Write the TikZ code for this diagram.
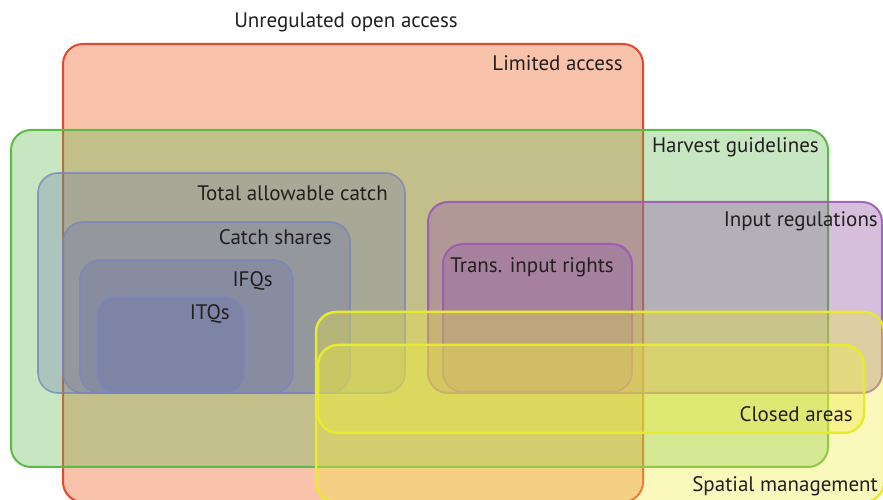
\documentclass[tikz,border=0pt]{standalone}
\usepackage{fontspec}
\setmainfont{PT Sans}
\definecolor{txt}{RGB}{35,31,32}
\definecolor{redfill}{RGB}{249,195,171}
\definecolor{redline}{RGB}{230,72,45}
\definecolor{greenbase}{RGB}{95,185,80}
\definecolor{greenline}{RGB}{92,186,70}
\definecolor{bluebase}{RGB}{105,115,175}
\definecolor{blueline}{RGB}{120,135,190}
\definecolor{purplebase}{RGB}{150,95,170}
\definecolor{purpleline}{RGB}{155,90,180}
\definecolor{yellowbase}{RGB}{240,235,60}
\definecolor{yellowline}{RGB}{232,234,50}
\tikzset{
  region/.style={rounded corners=20pt, line width=2pt},
  redset/.style={region, fill=redfill, draw=redline},
  greenset/.style={region, fill=greenbase, fill opacity=0.35, draw=greenline, draw opacity=1},
  blueset/.style={region, fill=bluebase, fill opacity=0.3, draw=blueline, draw opacity=0.8, line width=1.6pt},
  purpleset/.style={region, fill=purplebase, fill opacity=0.4, draw=purpleline, draw opacity=0.9},
  yellowset/.style={region, fill=yellowbase, fill opacity=0.35, draw=yellowline, draw opacity=1, line width=2.5pt},
  lbl/.style={text=txt, font=\fontsize{21}{23}\selectfont, inner sep=0pt}
}
\begin{document}
\begin{tikzpicture}[x=1pt,y=1pt]
\useasboundingbox (0,0) rectangle (883,500);
\clip (0,0) rectangle (883,500);

% nested management regimes, back to front
\draw[redset]    (63,-2)   rectangle (643,456);
\draw[greenset]  (11,33)   rectangle (828,370);
\draw[blueset]   (38,107)  rectangle (405,327);
\draw[blueset]   (63,107)  rectangle (350,278);
\draw[blueset]   (80,107)  rectangle (293,240);
\draw[blueset]   (97,107)  rectangle (244,203);
\draw[purpleset] (428,107) rectangle (882,298);
\draw[purpleset] (443,108) rectangle (632,256);
\draw[yellowset] (316,-2)  rectangle (884,188);
\draw[yellowset] (318,67)  rectangle (864,155);

% labels
\node[lbl, anchor=base]      (open)    at (346,472) {Unregulated open access};
\node[lbl, anchor=base east] (limited) at (623,429) {Limited access};
\node[lbl, anchor=base east] (harvest) at (819,347) {Harvest guidelines};
\node[lbl, anchor=base east] (tac)     at (388,299) {Total allowable catch};
\node[lbl, anchor=base east] (shares)  at (332,255) {Catch shares};
\node[lbl, anchor=base east] (ifq)     at (273,213) {IFQs};
\node[lbl, anchor=base east] (itq)     at (230,180) {ITQs};
\node[lbl, anchor=base east] (input)   at (878,273) {Input regulations};
\node[lbl, anchor=base east] (trans)   at (614,227) {Trans. input rights};
\node[lbl, anchor=base east] (closed)  at (853,78)  {Closed areas};
\node[lbl, anchor=base east] (spatial) at (878,8)   {Spatial management};
\end{tikzpicture}
\end{document}
